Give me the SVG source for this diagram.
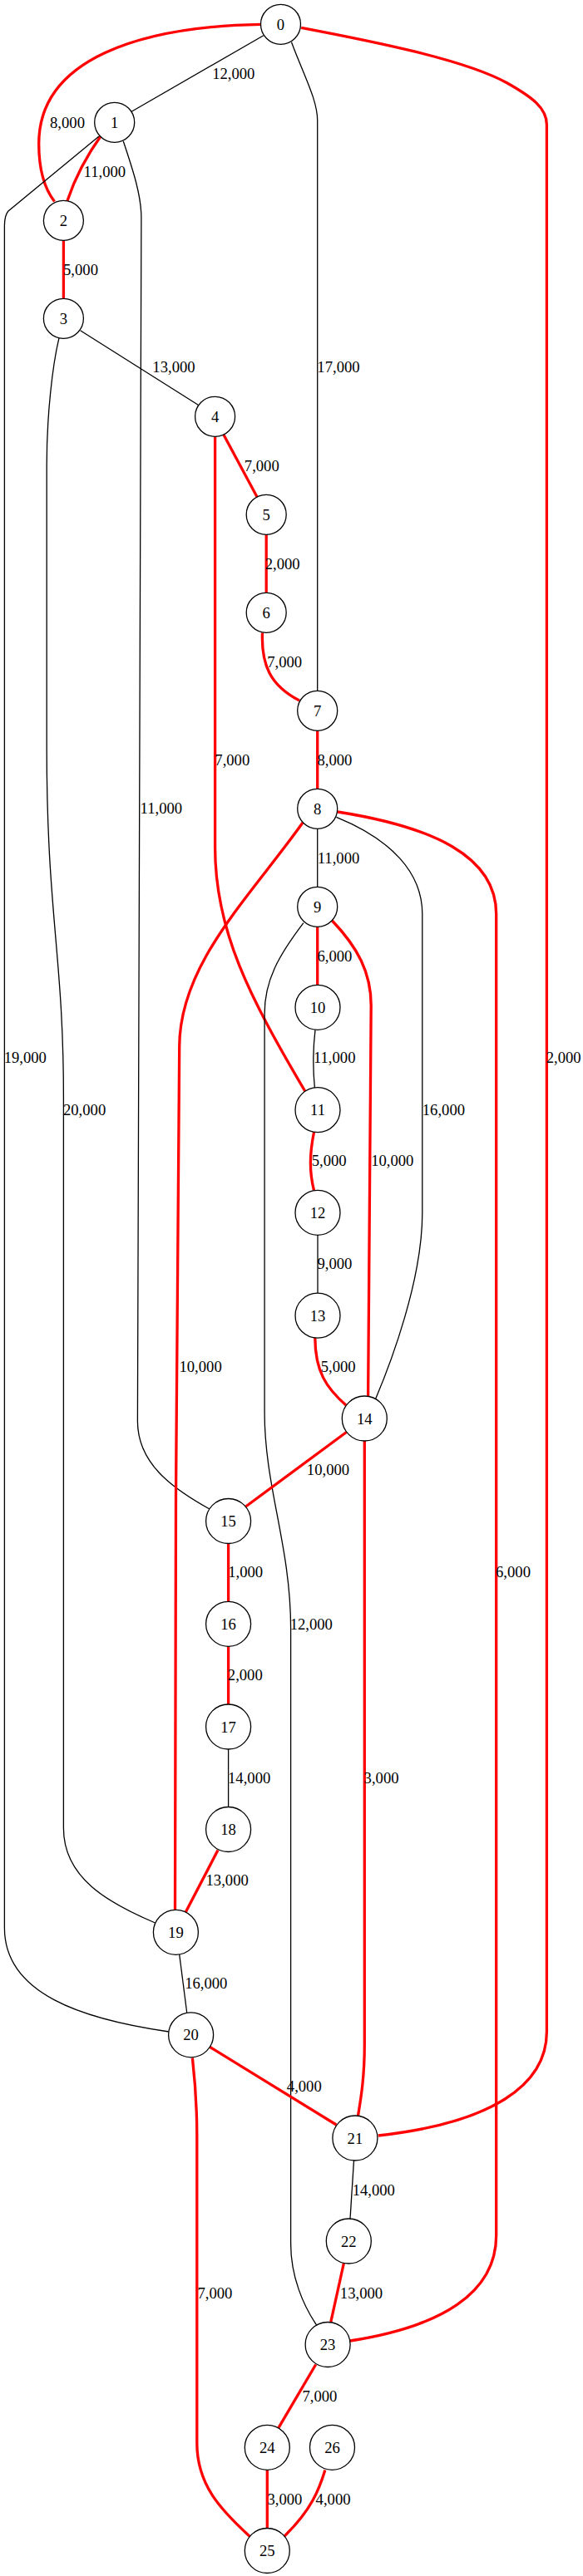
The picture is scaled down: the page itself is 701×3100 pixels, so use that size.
<svg xmlns="http://www.w3.org/2000/svg" width="701" height="3100" viewBox="0 0 701 3100">
<style>
.e{fill:none;stroke:#000;stroke-width:1.3}
.r{fill:none;stroke:#ff0000;stroke-width:3.3}
text{font-family:"Liberation Serif","Times New Roman",serif;font-size:18.67px;fill:#000;text-anchor:middle}
.n circle{fill:#fff;stroke:#000;stroke-width:1.3}
</style>
<rect width="701" height="3100" fill="#fff"/>
<g id="edges">
<g id="e0_1"><path class="e" d="M316.8,42.7 L158.2,134.3"/><text x="280.8" y="94.7">12,000</text></g>
<g id="e0_2"><path class="r" d="M313.5,29.3 C170,32 46.7,70 46.7,173 C46.7,200 52,225 65.5,242.5"/><text x="81" y="154">8,000</text></g>
<g id="e0_7"><path class="e" d="M350.5,50.7 C365,90 381.7,120 381.7,145 L381.7,831.3"/><text x="407" y="448.3">17,000</text></g>
<g id="e0_21"><path class="r" d="M362.2,33.3 C450,50 560,72 610,100 C640,117 657.4,130 657.4,150 L657.4,2445 C657.4,2510 590,2555 454.8,2570"/><text x="677.7" y="1279.3">2,000</text></g>
<g id="e1_2"><path class="r" d="M122.2,162.3 Q95,200 80.9,241.7"/><text x="125.9" y="212.7">11,000</text></g>
<g id="e1_15"><path class="e" d="M148.3,170 C160,205 169.9,235 169.9,262 L165.4,1710 C165.4,1760 205,1790 252,1816"/><text x="193.9" y="979.3">11,000</text></g>
<g id="e1_20"><path class="e" d="M119,164 L10,254 Q5.4,259 5.4,272 L5.4,2320 C5.4,2400 100,2430 203,2445"/><text x="30.3" y="1279.3">19,000</text></g>
<g id="e2_3"><path class="r" d="M76.4,289.3 L76.4,359.3"/><text x="97" y="330.7">5,000</text></g>
<g id="e3_4"><path class="e" d="M96.6,397.7 L238.2,487.3"/><text x="209" y="448.3">13,000</text></g>
<g id="e3_19"><path class="e" d="M71,406.7 C63,440 56.2,500 56.2,560 L56.2,900 C56.2,1100 76.4,1150 76.4,1320 L76.4,2200 C76.4,2260 130,2290 186.5,2314"/><text x="101.6" y="1341.7">20,000</text></g>
<g id="e4_5"><path class="r" d="M268.7,522.7 L309.2,598.3"/><text x="314.8" y="566.7">7,000</text></g>
<g id="e4_11"><path class="r" d="M258.6,525.3 L258.6,1020 C258.6,1120 300,1200 367,1313.5"/><text x="279.3" y="920.7">7,000</text></g>
<g id="e5_6"><path class="r" d="M320.2,643.3 L320.2,713.3"/><text x="339.7" y="685">2,000</text></g>
<g id="e6_7"><path class="r" d="M315.5,761.5 C314,800 325,825 360,843"/><text x="342.2" y="802.7">7,000</text></g>
<g id="e7_8"><path class="r" d="M381.7,879.3 L381.7,949.3"/><text x="402.4" y="920.7">8,000</text></g>
<g id="e8_9"><path class="e" d="M381.7,997.3 L381.7,1067.3"/><text x="407" y="1038.7">11,000</text></g>
<g id="e8_14"><path class="e" d="M404.4,983.3 C470,1010 507.8,1050 507.8,1100 L507.8,1460 C507.8,1540 470,1640 451.6,1683.5"/><text x="533.4" y="1341.7">16,000</text></g>
<g id="e8_19"><path class="r" d="M364,990 C300,1080 215.7,1160 215.7,1260 L211.5,1800 L210.5,2298.3"/><text x="241.1" y="1650.7">10,000</text></g>
<g id="e8_23"><path class="r" d="M406,977 C520,995 596.7,1030 596.7,1100 L596.7,2690 C596.7,2760 530,2800 421,2817"/><text x="617" y="1898.3">6,000</text></g>
<g id="e9_10"><path class="r" d="M381.7,1115.3 L381.7,1185.3"/><text x="402.4" y="1156.7">6,000</text></g>
<g id="e9_14"><path class="r" d="M399,1107.5 C430,1140 446.2,1170 446.2,1210 L442.6,1681"/><text x="471.8" y="1403.3">10,000</text></g>
<g id="e9_23"><path class="e" d="M364.9,1110.7 C335,1150 318.1,1180 318.1,1220 L318.1,1700 C318.1,1790 349.6,1860 349.6,1960 L349.6,2700 C349.6,2740 365,2775 380.6,2798"/><text x="374.3" y="1960.7">12,000</text></g>
<g id="e10_11"><path class="e" d="M379,1239.3 C376,1265 376,1285 378.4,1309"/><text x="402.2" y="1279.3">11,000</text></g>
<g id="e11_12"><path class="r" d="M377.5,1362.5 C372,1390 372,1410 377.5,1432.5"/><text x="395.7" y="1403.3">5,000</text></g>
<g id="e12_13"><path class="e" d="M382,1486.3 L382,1556.2"/><text x="402.4" y="1527.3">9,000</text></g>
<g id="e13_14"><path class="r" d="M378.8,1610 C379,1650 392,1670 416,1691"/><text x="406.7" y="1650.7">5,000</text></g>
<g id="e14_15"><path class="r" d="M416.5,1723.5 L295.5,1813"/><text x="394.5" y="1775">10,000</text></g>
<g id="e14_21"><path class="r" d="M438.3,1734 L438.3,2460 C438.3,2500 434,2525 430.5,2546.2"/><text x="458.6" y="2145.7">3,000</text></g>
<g id="e15_16"><path class="r" d="M274.6,1857.5 L274.6,1927.3"/><text x="295.2" y="1898.3">1,000</text></g>
<g id="e16_17"><path class="r" d="M274.6,1981.3 L274.6,2051"/><text x="294.8" y="2021.7">2,000</text></g>
<g id="e17_18"><path class="e" d="M274.6,2105 L274.6,2174.5"/><text x="299.7" y="2145.7">14,000</text></g>
<g id="e18_19"><path class="r" d="M262,2226.5 L223.3,2301"/><text x="273.2" y="2269.3">13,000</text></g>
<g id="e19_20"><path class="e" d="M215.7,2352 L224.7,2422"/><text x="247.8" y="2393.3">16,000</text></g>
<g id="e20_21"><path class="r" d="M252.5,2463.5 L404.4,2557"/><text x="365.8" y="2516.5">4,000</text></g>
<g id="e20_25"><path class="r" d="M231.4,2476.5 C234,2500 236.8,2530 236.8,2570 L236.8,2940 C236.8,2990 265,3020 300.5,3052.5"/><text x="258.4" y="2766.2">7,000</text></g>
<g id="e21_22"><path class="e" d="M425.5,2600 L421,2670"/><text x="449.3" y="2641.5">14,000</text></g>
<g id="e22_23"><path class="r" d="M413.4,2723.5 L397.7,2794.7"/><text x="434.5" y="2766.2">13,000</text></g>
<g id="e23_24"><path class="r" d="M379.7,2845.5 L334.8,2921.8"/><text x="384.4" y="2889.6">7,000</text></g>
<g id="e24_25"><path class="r" d="M321.3,2972.3 L321.3,3043"/><text x="342.4" y="3014.2">3,000</text></g>
<g id="e26_25"><path class="r" d="M390.9,2972.5 C384,2995 375,3020 341.5,3052.5"/><text x="400.6" y="3014.2">4,000</text></g>
</g>
<g id="n0" class="n"><circle cx="337.5" cy="29.3" r="24"/><text x="337.5" y="35.8">0</text></g>
<g id="n1" class="n"><circle cx="137.7" cy="147.3" r="24"/><text x="137.7" y="153.8">1</text></g>
<g id="n2" class="n"><circle cx="76.4" cy="265.3" r="24"/><text x="76.4" y="271.8">2</text></g>
<g id="n3" class="n"><circle cx="76.4" cy="383.3" r="24"/><text x="76.4" y="389.8">3</text></g>
<g id="n4" class="n"><circle cx="258.6" cy="501.3" r="24"/><text x="258.6" y="507.8">4</text></g>
<g id="n5" class="n"><circle cx="320.2" cy="619.3" r="24"/><text x="320.2" y="625.8">5</text></g>
<g id="n6" class="n"><circle cx="320.2" cy="737.3" r="24"/><text x="320.2" y="743.8">6</text></g>
<g id="n7" class="n"><circle cx="381.7" cy="855.3" r="24"/><text x="381.7" y="861.8">7</text></g>
<g id="n8" class="n"><circle cx="381.7" cy="973.3" r="24"/><text x="381.7" y="979.8">8</text></g>
<g id="n9" class="n"><circle cx="381.7" cy="1091.3" r="24"/><text x="381.7" y="1097.8">9</text></g>
<g id="n10" class="n"><circle cx="382" cy="1212.3" r="27"/><text x="382" y="1218.8">10</text></g>
<g id="n11" class="n"><circle cx="382" cy="1335.7" r="27"/><text x="382" y="1342.2">11</text></g>
<g id="n12" class="n"><circle cx="382" cy="1459.3" r="27"/><text x="382" y="1465.8">12</text></g>
<g id="n13" class="n"><circle cx="382" cy="1583.2" r="27"/><text x="382" y="1589.7">13</text></g>
<g id="n14" class="n"><circle cx="438.3" cy="1707" r="27"/><text x="438.3" y="1713.5">14</text></g>
<g id="n15" class="n"><circle cx="274.6" cy="1830.5" r="27"/><text x="274.6" y="1837">15</text></g>
<g id="n16" class="n"><circle cx="274.6" cy="1954.3" r="27"/><text x="274.6" y="1960.8">16</text></g>
<g id="n17" class="n"><circle cx="274.6" cy="2078" r="27"/><text x="274.6" y="2084.5">17</text></g>
<g id="n18" class="n"><circle cx="274.6" cy="2201.5" r="27"/><text x="274.6" y="2208">18</text></g>
<g id="n19" class="n"><circle cx="211.4" cy="2325.3" r="27"/><text x="211.4" y="2331.8">19</text></g>
<g id="n20" class="n"><circle cx="229.6" cy="2448.8" r="27"/><text x="229.6" y="2455.3">20</text></g>
<g id="n21" class="n"><circle cx="426.9" cy="2573" r="27"/><text x="426.9" y="2579.5">21</text></g>
<g id="n22" class="n"><circle cx="419.3" cy="2697" r="27"/><text x="419.3" y="2703.5">22</text></g>
<g id="n23" class="n"><circle cx="394.1" cy="2821.5" r="27"/><text x="394.1" y="2828">23</text></g>
<g id="n24" class="n"><circle cx="321.3" cy="2945.3" r="27"/><text x="321.3" y="2951.8">24</text></g>
<g id="n26" class="n"><circle cx="399.5" cy="2945.3" r="27"/><text x="399.5" y="2951.8">26</text></g>
<g id="n25" class="n"><circle cx="321.3" cy="3069.5" r="27"/><text x="321.3" y="3076">25</text></g>
</svg>
